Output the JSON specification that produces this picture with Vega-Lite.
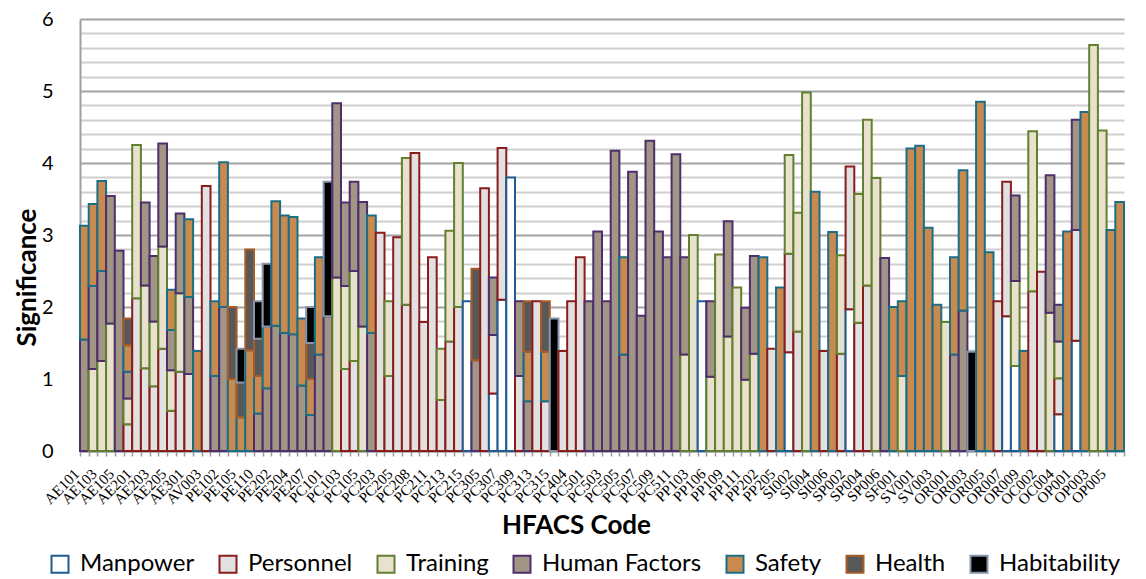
{
  "$schema": "https://vega.github.io/schema/vega-lite/v6.json",
  "width": 1044,
  "height": 432,
  "autosize": {"type": "none"},
  "padding": {"left": 80, "top": 19, "right": 22, "bottom": 128},
  "background": "white",
  "data": {"values": [
    {"c":"AE101","s":"Human Factors","lo":0,"hi":1.55},{"c":"AE101","s":"Safety","lo":1.55,"hi":3.13},
    {"c":"AE102","s":"Training","lo":0,"hi":1.14},{"c":"AE102","s":"Human Factors","lo":1.14,"hi":2.29},{"c":"AE102","s":"Safety","lo":2.29,"hi":3.43},
    {"c":"AE103","s":"Training","lo":0,"hi":1.25},{"c":"AE103","s":"Human Factors","lo":1.25,"hi":2.5},{"c":"AE103","s":"Safety","lo":2.5,"hi":3.75},
    {"c":"AE104","s":"Training","lo":0,"hi":1.77},{"c":"AE104","s":"Human Factors","lo":1.77,"hi":3.54},
    {"c":"AE105","s":"Human Factors","lo":0,"hi":2.78},
    {"c":"AE106","s":"Personnel","lo":0,"hi":0.37},{"c":"AE106","s":"Training","lo":0.37,"hi":0.73},{"c":"AE106","s":"Human Factors","lo":0.73,"hi":1.1},{"c":"AE106","s":"Safety","lo":1.1,"hi":1.47},{"c":"AE106","s":"Health","lo":1.47,"hi":1.84},
    {"c":"AE201","s":"Personnel","lo":0,"hi":2.12},{"c":"AE201","s":"Training","lo":2.12,"hi":4.25},
    {"c":"AE202","s":"Personnel","lo":0,"hi":1.15},{"c":"AE202","s":"Training","lo":1.15,"hi":2.3},{"c":"AE202","s":"Human Factors","lo":2.3,"hi":3.45},
    {"c":"AE203","s":"Personnel","lo":0,"hi":0.9},{"c":"AE203","s":"Training","lo":0.9,"hi":1.8},{"c":"AE203","s":"Human Factors","lo":1.8,"hi":2.71},
    {"c":"AE204","s":"Personnel","lo":0,"hi":1.42},{"c":"AE204","s":"Training","lo":1.42,"hi":2.84},{"c":"AE204","s":"Human Factors","lo":2.84,"hi":4.27},
    {"c":"AE205","s":"Personnel","lo":0,"hi":0.56},{"c":"AE205","s":"Training","lo":0.56,"hi":1.12},{"c":"AE205","s":"Human Factors","lo":1.12,"hi":1.68},{"c":"AE205","s":"Safety","lo":1.68,"hi":2.24},
    {"c":"AE206","s":"Personnel","lo":0,"hi":1.1},{"c":"AE206","s":"Training","lo":1.1,"hi":2.19},{"c":"AE206","s":"Human Factors","lo":2.19,"hi":3.3},
    {"c":"AE301","s":"Personnel","lo":0,"hi":1.07},{"c":"AE301","s":"Human Factors","lo":1.07,"hi":2.14},{"c":"AE301","s":"Safety","lo":2.14,"hi":3.22},
    {"c":"AE302","s":"Safety","lo":0,"hi":1.39},
    {"c":"AV003","s":"Personnel","lo":0,"hi":3.68},
    {"c":"PE101","s":"Human Factors","lo":0,"hi":1.04},{"c":"PE101","s":"Safety","lo":1.04,"hi":2.08},
    {"c":"PE102","s":"Human Factors","lo":0,"hi":2.0},{"c":"PE102","s":"Safety","lo":2.0,"hi":4.01},
    {"c":"PE104","s":"Safety","lo":0,"hi":1.0},{"c":"PE104","s":"Health","lo":1.0,"hi":2.0},
    {"c":"PE105","s":"Safety","lo":0,"hi":0.47},{"c":"PE105","s":"Health","lo":0.47,"hi":0.95},{"c":"PE105","s":"Habitability","lo":0.95,"hi":1.42},
    {"c":"PE106","s":"Safety","lo":0,"hi":1.4},{"c":"PE106","s":"Health","lo":1.4,"hi":2.8},
    {"c":"PE110","s":"Human Factors","lo":0,"hi":0.52},{"c":"PE110","s":"Safety","lo":0.52,"hi":1.04},{"c":"PE110","s":"Health","lo":1.04,"hi":1.56},{"c":"PE110","s":"Habitability","lo":1.56,"hi":2.08},
    {"c":"PE201","s":"Human Factors","lo":0,"hi":0.87},{"c":"PE201","s":"Safety","lo":0.87,"hi":1.73},{"c":"PE201","s":"Habitability","lo":1.73,"hi":2.6},
    {"c":"PE202","s":"Human Factors","lo":0,"hi":1.74},{"c":"PE202","s":"Safety","lo":1.74,"hi":3.47},
    {"c":"PE203","s":"Human Factors","lo":0,"hi":1.64},{"c":"PE203","s":"Safety","lo":1.64,"hi":3.27},
    {"c":"PE204","s":"Human Factors","lo":0,"hi":1.62},{"c":"PE204","s":"Safety","lo":1.62,"hi":3.25},
    {"c":"PE205","s":"Human Factors","lo":0,"hi":0.91},{"c":"PE205","s":"Safety","lo":0.91,"hi":1.84},
    {"c":"PE207","s":"Human Factors","lo":0,"hi":0.5},{"c":"PE207","s":"Safety","lo":0.5,"hi":1.0},{"c":"PE207","s":"Health","lo":1.0,"hi":1.5},{"c":"PE207","s":"Habitability","lo":1.5,"hi":2.0},
    {"c":"PE208","s":"Human Factors","lo":0,"hi":1.34},{"c":"PE208","s":"Safety","lo":1.34,"hi":2.69},
    {"c":"PC101","s":"Human Factors","lo":0,"hi":1.87},{"c":"PC101","s":"Habitability","lo":1.87,"hi":3.74},
    {"c":"PC102","s":"Training","lo":0,"hi":2.41},{"c":"PC102","s":"Human Factors","lo":2.41,"hi":4.83},
    {"c":"PC103","s":"Personnel","lo":0,"hi":1.14},{"c":"PC103","s":"Training","lo":1.14,"hi":2.29},{"c":"PC103","s":"Human Factors","lo":2.29,"hi":3.45},
    {"c":"PC104","s":"Personnel","lo":0,"hi":1.25},{"c":"PC104","s":"Training","lo":1.25,"hi":2.5},{"c":"PC104","s":"Human Factors","lo":2.5,"hi":3.74},
    {"c":"PC105","s":"Training","lo":0,"hi":1.73},{"c":"PC105","s":"Human Factors","lo":1.73,"hi":3.46},
    {"c":"PC201","s":"Human Factors","lo":0,"hi":1.64},{"c":"PC201","s":"Safety","lo":1.64,"hi":3.27},
    {"c":"PC203","s":"Personnel","lo":0,"hi":3.03},
    {"c":"PC204","s":"Personnel","lo":0,"hi":1.04},{"c":"PC204","s":"Training","lo":1.04,"hi":2.08},
    {"c":"PC205","s":"Personnel","lo":0,"hi":2.97},
    {"c":"PC206","s":"Personnel","lo":0,"hi":2.03},{"c":"PC206","s":"Training","lo":2.03,"hi":4.07},
    {"c":"PC208","s":"Personnel","lo":0,"hi":4.14},
    {"c":"PC209","s":"Personnel","lo":0,"hi":1.79},
    {"c":"PC211","s":"Personnel","lo":0,"hi":2.69},
    {"c":"PC212","s":"Personnel","lo":0,"hi":0.71},{"c":"PC212","s":"Training","lo":0.71,"hi":1.42},
    {"c":"PC213","s":"Personnel","lo":0,"hi":1.52},{"c":"PC213","s":"Training","lo":1.52,"hi":3.06},
    {"c":"PC214","s":"Personnel","lo":0,"hi":2.0},{"c":"PC214","s":"Training","lo":2.0,"hi":4.0},
    {"c":"PC215","s":"Manpower","lo":0,"hi":2.08},
    {"c":"PC301","s":"Human Factors","lo":0,"hi":1.26},{"c":"PC301","s":"Health","lo":1.26,"hi":2.53},
    {"c":"PC305","s":"Personnel","lo":0,"hi":3.65},
    {"c":"PC306","s":"Manpower","lo":0,"hi":0.8},{"c":"PC306","s":"Personnel","lo":0.8,"hi":1.61},{"c":"PC306","s":"Human Factors","lo":1.61,"hi":2.41},
    {"c":"PC307","s":"Manpower","lo":0,"hi":2.1},{"c":"PC307","s":"Personnel","lo":2.1,"hi":4.21},
    {"c":"PC308","s":"Manpower","lo":0,"hi":3.8},
    {"c":"PC309","s":"Personnel","lo":0,"hi":1.04},{"c":"PC309","s":"Human Factors","lo":1.04,"hi":2.08},
    {"c":"PC311","s":"Human Factors","lo":0,"hi":0.69},{"c":"PC311","s":"Safety","lo":0.69,"hi":1.38},{"c":"PC311","s":"Health","lo":1.38,"hi":2.08},
    {"c":"PC313","s":"Personnel","lo":0,"hi":2.08},
    {"c":"PC314","s":"Personnel","lo":0,"hi":0.69},{"c":"PC314","s":"Safety","lo":0.69,"hi":1.38},{"c":"PC314","s":"Health","lo":1.38,"hi":2.08},
    {"c":"PC315","s":"Habitability","lo":0,"hi":1.84},
    {"c":"PC401","s":"Personnel","lo":0,"hi":1.39},
    {"c":"PC404","s":"Personnel","lo":0,"hi":2.08},
    {"c":"PC405","s":"Personnel","lo":0,"hi":2.69},
    {"c":"PC501","s":"Human Factors","lo":0,"hi":2.08},
    {"c":"PC502","s":"Human Factors","lo":0,"hi":3.05},
    {"c":"PC503","s":"Human Factors","lo":0,"hi":2.08},
    {"c":"PC504","s":"Human Factors","lo":0,"hi":4.17},
    {"c":"PC505","s":"Human Factors","lo":0,"hi":1.34},{"c":"PC505","s":"Safety","lo":1.34,"hi":2.69},
    {"c":"PC506","s":"Human Factors","lo":0,"hi":3.88},
    {"c":"PC507","s":"Human Factors","lo":0,"hi":1.88},
    {"c":"PC508","s":"Human Factors","lo":0,"hi":4.31},
    {"c":"PC509","s":"Human Factors","lo":0,"hi":3.05},
    {"c":"PC510","s":"Human Factors","lo":0,"hi":2.69},
    {"c":"PC511","s":"Human Factors","lo":0,"hi":4.12},
    {"c":"PP101","s":"Training","lo":0,"hi":1.34},{"c":"PP101","s":"Human Factors","lo":1.34,"hi":2.69},
    {"c":"PP103","s":"Training","lo":0,"hi":3.0},
    {"c":"PP104","s":"Manpower","lo":0,"hi":2.08},
    {"c":"PP106","s":"Training","lo":0,"hi":1.03},{"c":"PP106","s":"Human Factors","lo":1.03,"hi":2.08},
    {"c":"PP107","s":"Training","lo":0,"hi":2.73},
    {"c":"PP109","s":"Training","lo":0,"hi":1.59},{"c":"PP109","s":"Human Factors","lo":1.59,"hi":3.19},
    {"c":"PP110","s":"Training","lo":0,"hi":2.27},
    {"c":"PP111","s":"Training","lo":0,"hi":0.99},{"c":"PP111","s":"Human Factors","lo":0.99,"hi":1.99},
    {"c":"PP201","s":"Training","lo":0,"hi":1.35},{"c":"PP201","s":"Human Factors","lo":1.35,"hi":2.71},
    {"c":"PP202","s":"Safety","lo":0,"hi":2.69},
    {"c":"PP203","s":"Personnel","lo":0,"hi":1.42},
    {"c":"PP205","s":"Safety","lo":0,"hi":2.27},
    {"c":"SI001","s":"Manpower","lo":0,"hi":1.37},{"c":"SI001","s":"Personnel","lo":1.37,"hi":2.74},{"c":"SI001","s":"Training","lo":2.74,"hi":4.11},
    {"c":"SI002","s":"Personnel","lo":0,"hi":1.66},{"c":"SI002","s":"Training","lo":1.66,"hi":3.31},
    {"c":"SI003","s":"Training","lo":0,"hi":4.98},
    {"c":"SI004","s":"Safety","lo":0,"hi":3.6},
    {"c":"SI005","s":"Personnel","lo":0,"hi":1.39},
    {"c":"SI006","s":"Safety","lo":0,"hi":3.04},
    {"c":"SP001","s":"Personnel","lo":0,"hi":1.35},{"c":"SP001","s":"Training","lo":1.35,"hi":2.72},
    {"c":"SP002","s":"Manpower","lo":0,"hi":1.97},{"c":"SP002","s":"Personnel","lo":1.97,"hi":3.95},
    {"c":"SP003","s":"Personnel","lo":0,"hi":1.78},{"c":"SP003","s":"Training","lo":1.78,"hi":3.57},
    {"c":"SP004","s":"Personnel","lo":0,"hi":2.3},{"c":"SP004","s":"Training","lo":2.3,"hi":4.6},
    {"c":"SP005","s":"Training","lo":0,"hi":3.79},
    {"c":"SP006","s":"Human Factors","lo":0,"hi":2.68},
    {"c":"SP007","s":"Safety","lo":0,"hi":2.0},
    {"c":"SF001","s":"Training","lo":0,"hi":1.04},{"c":"SF001","s":"Safety","lo":1.04,"hi":2.08},
    {"c":"SF002","s":"Safety","lo":0,"hi":4.2},
    {"c":"SV001","s":"Safety","lo":0,"hi":4.24},
    {"c":"SV002","s":"Safety","lo":0,"hi":3.1},
    {"c":"SV003","s":"Safety","lo":0,"hi":2.03},
    {"c":"SV004","s":"Training","lo":0,"hi":1.79},
    {"c":"OR001","s":"Human Factors","lo":0,"hi":1.34},{"c":"OR001","s":"Safety","lo":1.34,"hi":2.69},
    {"c":"OR002","s":"Human Factors","lo":0,"hi":1.95},{"c":"OR002","s":"Safety","lo":1.95,"hi":3.9},
    {"c":"OR003","s":"Habitability","lo":0,"hi":1.38},
    {"c":"OR004","s":"Safety","lo":0,"hi":4.85},
    {"c":"OR005","s":"Safety","lo":0,"hi":2.76},
    {"c":"OR006","s":"Personnel","lo":0,"hi":2.08},
    {"c":"OR007","s":"Manpower","lo":0,"hi":1.87},{"c":"OR007","s":"Personnel","lo":1.87,"hi":3.74},
    {"c":"OR008","s":"Manpower","lo":0,"hi":1.18},{"c":"OR008","s":"Training","lo":1.18,"hi":2.36},{"c":"OR008","s":"Human Factors","lo":2.36,"hi":3.55},
    {"c":"OR009","s":"Safety","lo":0,"hi":1.39},
    {"c":"OC001","s":"Personnel","lo":0,"hi":2.22},{"c":"OC001","s":"Training","lo":2.22,"hi":4.44},
    {"c":"OC002","s":"Personnel","lo":0,"hi":2.49},
    {"c":"OC003","s":"Training","lo":0,"hi":1.92},{"c":"OC003","s":"Human Factors","lo":1.92,"hi":3.83},
    {"c":"OC004","s":"Manpower","lo":0,"hi":0.51},{"c":"OC004","s":"Personnel","lo":0.51,"hi":1.01},{"c":"OC004","s":"Training","lo":1.01,"hi":1.52},{"c":"OC004","s":"Human Factors","lo":1.52,"hi":2.03},
    {"c":"OC005","s":"Safety","lo":0,"hi":3.05},
    {"c":"OP001","s":"Manpower","lo":0,"hi":1.53},{"c":"OP001","s":"Personnel","lo":1.53,"hi":3.07},{"c":"OP001","s":"Human Factors","lo":3.07,"hi":4.6},
    {"c":"OP002","s":"Safety","lo":0,"hi":4.71},
    {"c":"OP003","s":"Training","lo":0,"hi":5.64},
    {"c":"OP004","s":"Training","lo":0,"hi":4.45},
    {"c":"OP005","s":"Safety","lo":0,"hi":3.07},
    {"c":"OP006","s":"Safety","lo":0,"hi":3.46}
  ]},
  "mark": {"type": "bar", "strokeWidth": 2},
  "encoding": {
    "x": {
      "field": "c", "type": "nominal", "sort": null,
      "scale": {"paddingInner": 0, "paddingOuter": 0},
      "axis": {
        "title": "HFACS Code",
        "labelAngle": -45,
        "labelFont": "Liberation Serif",
        "labelFontSize": 15,
        "labelColor": "black",
        "labelOverlap": false,
        "labelBound": false,
        "labelExpr": "round(datum.index * 119) % 2 == 0 ? datum.label : ''",
        "labelPadding": 10,
        "labelOffset": -13,
        "tickBand": "extent",
        "tickColor": "#9A9A9A",
        "tickSize": 5,
        "tickWidth": 1.5,
        "domainColor": "#8D98AA",
        "domainWidth": 2,
        "titleFont": "Lato",
        "titleFontSize": 26,
        "titleFontWeight": "bold",
        "titleColor": "black",
        "titleX": 496,
        "titleY": 82,
        "titleBaseline": "alphabetic"
      }
    },
    "y": {
      "field": "lo", "type": "quantitative",
      "scale": {"domain": [0, 6], "nice": false},
      "axis": {
        "title": "Significance",
        "values": [0,0.2,0.4,0.6,0.8,1,1.2,1.4,1.6,1.8,2,2.2,2.4,2.6,2.8,3,3.2,3.4,3.6,3.8,4,4.2,4.4,4.6,4.8,5,5.2,5.4,5.6,5.8,6],
        "labelExpr": "datum.value % 1 == 0 ? format(datum.value, 'd') : ''",
        "labelFont": "Lato",
        "labelFontSize": 20,
        "labelColor": "black",
        "labelPadding": 27,
        "ticks": false,
        "domainColor": "#A0A0A0",
        "domainWidth": 2,
        "grid": true,
        "gridColor": {"condition": {"test": "datum.value % 1 == 0", "value": "#A3A3A3"}, "value": "#CFCFCF"},
        "gridWidth": 2,
        "titleFont": "Lato",
        "titleFontSize": 26,
        "titleFontWeight": "bold",
        "titleColor": "black",
        "titleAngle": -90,
        "titleX": -45,
        "titleY": 258,
        "titleAlign": "center",
        "titleBaseline": "alphabetic"
      }
    },
    "y2": {"field": "hi"},
    "fill": {
      "field": "s", "type": "nominal",
      "scale": {
        "domain": ["Manpower","Personnel","Training","Human Factors","Safety","Health","Habitability"],
        "range": ["#FFFFFF","#E1E1E1","#E8E1CE","#A19686","#C98A50","#585858","#000000"]
      },
      "legend": {"title": null, "orient": "none", "direction": "horizontal", "legendX": -32, "legendY": 533,
        "labelFont": "Lato", "labelFontSize": 24, "labelColor": "black", "symbolType": "square", "symbolSize": 289,
        "symbolStrokeWidth": 2, "columnPadding": 20, "labelOffset": 8, "padding": 0}
    },
    "stroke": {
      "field": "s", "type": "nominal",
      "scale": {
        "domain": ["Manpower","Personnel","Training","Human Factors","Safety","Health","Habitability"],
        "range": ["#1F5C94","#8B1C1C","#62802F","#4E2F6C","#1C6E86","#A85C28","#8894AA"]
      },
      "legend": {"title": null, "orient": "none", "direction": "horizontal", "legendX": -32, "legendY": 533,
        "labelFont": "Lato", "labelFontSize": 24, "labelColor": "black", "symbolType": "square", "symbolSize": 289,
        "symbolStrokeWidth": 2, "columnPadding": 20, "labelOffset": 8, "padding": 0}
    }
  },
  "config": {"view": {"stroke": null}}
}
